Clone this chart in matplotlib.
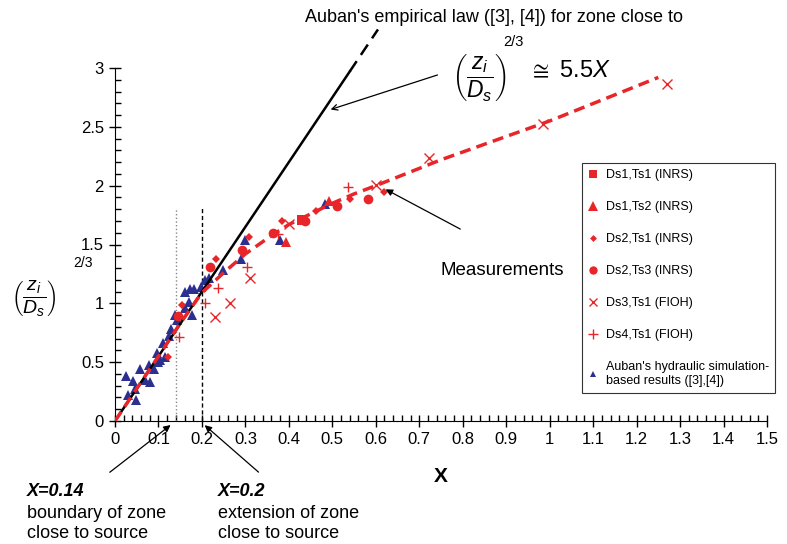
import matplotlib
matplotlib.use("Agg")
import matplotlib.pyplot as plt
from matplotlib.lines import Line2D

plt.rcParams['font.family'] = ['Liberation Sans', 'DejaVu Sans']
plt.rcParams['mathtext.fontset'] = 'custom'
plt.rcParams['mathtext.rm'] = 'Liberation Sans'
plt.rcParams['mathtext.it'] = 'Liberation Sans:italic'
plt.rcParams['mathtext.bf'] = 'Liberation Sans:bold'

RED = '#e8262a'
BLUE = '#2b2f8f'

# Auban's hydraulic simulation results
blue_x = [0.025, 0.029, 0.041, 0.045, 0.048, 0.058, 0.070, 0.080, 0.078, 0.090,
          0.097, 0.100, 0.104, 0.111, 0.116, 0.124, 0.129, 0.139, 0.142, 0.160,
          0.173, 0.182, 0.170, 0.162, 0.176, 0.198, 0.207, 0.217, 0.248, 0.291,
          0.298, 0.380, 0.483]
blue_y = [0.38, 0.22, 0.34, 0.27, 0.18, 0.44, 0.35, 0.33, 0.48, 0.44,
          0.58, 0.50, 0.52, 0.66, 0.54, 0.72, 0.78, 0.90, 0.86, 1.10,
          1.12, 1.12, 1.01, 0.96, 0.90, 1.14, 1.20, 1.215, 1.28, 1.38,
          1.54, 1.54, 1.84]

# measurements
ds1ts1_x = [0.430]
ds1ts1_y = [1.71]
ds1ts2_x = [0.393, 0.492]
ds1ts2_y = [1.525, 1.87]
ds2ts1_x = [0.123, 0.153, 0.232, 0.308, 0.384, 0.462, 0.540, 0.618]
ds2ts1_y = [0.54, 0.986, 1.38, 1.563, 1.70, 1.787, 1.89, 1.95]
ds2ts3_x = [0.145, 0.219, 0.292, 0.364, 0.437, 0.510, 0.583]
ds2ts3_y = [0.893, 1.305, 1.45, 1.595, 1.70, 1.827, 1.887]
ds3ts1_x = [0.230, 0.265, 0.310, 0.400, 0.600, 0.723, 0.985, 1.271]
ds3ts1_y = [0.887, 1.00, 1.212, 1.677, 2.006, 2.232, 2.523, 2.86]
ds4ts1_x = [0.148, 0.208, 0.238, 0.303, 0.376, 0.535]
ds4ts1_y = [0.711, 1.003, 1.13, 1.312, 1.592, 1.986]

# fitted curve through the measurements
fit_x = [0, 0.10, 0.15, 0.20, 0.25, 0.30, 0.35, 0.40, 0.45, 0.50, 0.55, 0.60, 0.75, 1.00, 1.25]
fit_y = [0, 0.55, 0.83, 1.09, 1.26, 1.42, 1.55, 1.67, 1.76, 1.85, 1.93, 2.00, 2.22, 2.55, 2.92]

# Auban's empirical law: (zi/Ds)^(2/3) = 5.5 X
law_slope = 5.5
law_solid_x = [0, 0.54]
law_dash_x = [0.54, 0.605]

x_boundary = 0.14
x_extension = 0.2
vline_top = 1.81

fig = plt.figure(figsize=(7.87, 5.44), dpi=100)
ax = fig.add_axes([115 / 787, 1 - 421 / 544, 652 / 787, 353 / 544])

ax.plot(blue_x, blue_y, '^', color=BLUE, ms=6.5, mew=0, zorder=3)
ax.plot(ds1ts1_x, ds1ts1_y, 's', color=RED, ms=7, mew=0, zorder=3)
ax.plot(ds1ts2_x, ds1ts2_y, '^', color=RED, ms=7.5, mew=0, zorder=3)
ax.plot(ds2ts1_x, ds2ts1_y, 'D', color=RED, ms=4, mew=0, zorder=3)
ax.plot(ds2ts3_x, ds2ts3_y, 'o', color=RED, ms=7, mew=0, zorder=3)
ax.plot(ds3ts1_x, ds3ts1_y, 'x', color=RED, ms=6.5, mew=1, zorder=3)
ax.plot(ds4ts1_x, ds4ts1_y, '+', color=RED, ms=7.5, mew=1, zorder=3)

ax.plot(law_solid_x, [law_slope * v for v in law_solid_x], '-', color='black', lw=1.8, zorder=4)
ax.plot(law_dash_x, [law_slope * v for v in law_dash_x], '--', color='black', lw=1.8,
        dashes=(5, 3), clip_on=False, zorder=4)
ax.plot(fit_x, fit_y, '--', color=RED, lw=2.5, dashes=(3.2, 1.8), zorder=5)

ax.plot([x_boundary, x_boundary], [0, vline_top], ':', color='#888888', lw=1, zorder=2)
ax.plot([x_extension, x_extension], [0, vline_top], '--', color='black', lw=1,
        dashes=(3, 2), zorder=2)

ax.set_xlim(0, 1.5)
ax.set_ylim(0, 3)
ax.set_xticks([i / 10 for i in range(16)])
ax.set_xticklabels(['0', '0.1', '0.2', '0.3', '0.4', '0.5', '0.6', '0.7', '0.8', '0.9',
                    '1', '1.1', '1.2', '1.3', '1.4', '1.5'])
ax.set_xticks([i / 50 for i in range(76)], minor=True)
ax.set_yticks([0, 0.5, 1, 1.5, 2, 2.5, 3])
ax.set_yticklabels(['0', '0.5', '1', '1.5', '2', '2.5', '3'])
ax.set_yticks([i / 10 for i in range(31)], minor=True)
ax.tick_params(which='major', direction='inout', length=8, width=1, labelsize=12, pad=4)
ax.tick_params(which='minor', direction='in', length=4, width=1)
for s in ['top', 'right']:
    ax.spines[s].set_visible(False)
ax.set_xlabel('X', fontsize=15, fontweight='bold', labelpad=14)

# legend
handles = [
    Line2D([], [], ls='none', marker='s', color=RED, ms=6, mew=0),
    Line2D([], [], ls='none', marker='^', color=RED, ms=6.5, mew=0),
    Line2D([], [], ls='none', marker='D', color=RED, ms=3.5, mew=0),
    Line2D([], [], ls='none', marker='o', color=RED, ms=6, mew=0),
    Line2D([], [], ls='none', marker='x', color=RED, ms=5.5, mew=1),
    Line2D([], [], ls='none', marker='+', color=RED, ms=6.5, mew=1),
    Line2D([], [], ls='none', marker='^', color=BLUE, ms=5, mew=0),
]
labels = ['Ds1,Ts1 (INRS)', 'Ds1,Ts2 (INRS)', 'Ds2,Ts1 (INRS)', 'Ds2,Ts3 (INRS)',
          'Ds3,Ts1 (FIOH)', 'Ds4,Ts1 (FIOH)',
          "Auban's hydraulic simulation-\nbased results ([3],[4])"]
leg = fig.legend(handles, labels, loc='upper left', bbox_to_anchor=(582 / 787, 1 - 163 / 544),
                 bbox_transform=fig.transFigure, fontsize=9, frameon=True, fancybox=False,
                 edgecolor='black', labelspacing=1.6, handlelength=0.8, handletextpad=0.6,
                 borderpad=0.5, borderaxespad=0)
leg.get_frame().set_linewidth(0.8)

# y-axis label
fig.text(11 / 787, 1 - 298 / 544, r'$\left(\dfrac{z_i}{D_s}\right)$', fontsize=14,
         ha='left', va='center')
fig.text(73 / 787, 1 - 263 / 544, '2/3', fontsize=10, ha='left', va='center')

# annotations
fig.text(305 / 787, 1 - 18 / 544, "Auban's empirical law ([3], [4]) for zone close to",
         fontsize=13, ha='left', va='center')
fig.text(452 / 787, 1 - 77 / 544, r'$\left(\dfrac{z_i}{D_s}\right)$', fontsize=16.5,
         ha='left', va='center')
fig.text(503 / 787, 1 - 42 / 544, '2/3', fontsize=10.5, ha='left', va='center')
fig.text(529 / 787, 1 - 71 / 544, r'$\cong$' + ' 5.5' + r'$X$', fontsize=17,
         ha='left', va='center')
ax.annotate('', xy=(0.49, 2.64), xytext=(0.748, 2.948), annotation_clip=False,
            arrowprops=dict(arrowstyle='->', color='black', lw=0.9))
ax.text(0.75, 1.28, 'Measurements', fontsize=13.5, ha='left', va='center')
ax.annotate('', xy=(0.617, 1.98), xytext=(0.80, 1.62), annotation_clip=False,
            arrowprops=dict(arrowstyle='-|>', color='black', lw=0.9))
ax.annotate('', xy=(0.133, -0.02), xytext=(-0.017, -0.45), annotation_clip=False,
            arrowprops=dict(arrowstyle='-|>', color='black', lw=0.9))
ax.annotate('', xy=(0.2015, -0.02), xytext=(0.335, -0.45), annotation_clip=False,
            arrowprops=dict(arrowstyle='-|>', color='black', lw=0.9))

fig.text(27 / 787, 1 - 491 / 544, 'X=0.14', fontsize=13, fontweight='bold',
         fontstyle='italic', ha='left', va='center')
fig.text(27 / 787, 1 - 513 / 544, 'boundary of zone', fontsize=13, ha='left', va='center')
fig.text(27 / 787, 1 - 533 / 544, 'close to source', fontsize=13, ha='left', va='center')
fig.text(218 / 787, 1 - 491 / 544, 'X=0.2', fontsize=13, fontweight='bold',
         fontstyle='italic', ha='left', va='center')
fig.text(218 / 787, 1 - 513 / 544, 'extension of zone', fontsize=13, ha='left', va='center')
fig.text(218 / 787, 1 - 533 / 544, 'close to source', fontsize=13, ha='left', va='center')

fig.savefig('out.png', dpi=100)
